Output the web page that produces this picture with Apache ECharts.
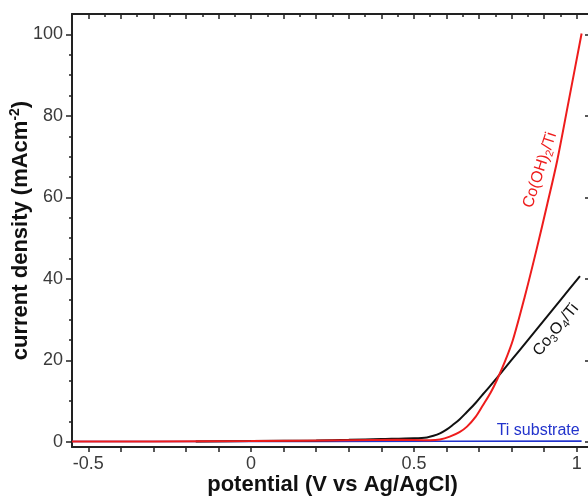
<!DOCTYPE html>
<html>
<head>
<meta charset="utf-8">
<script src="https://cdn.jsdelivr.net/npm/echarts@6/dist/echarts.min.js"></script>
<style>
  html, body { margin: 0; padding: 0; background: #fff; }
  #chart { width: 588px; height: 498px; }
</style>
</head>
<body>
<div id="chart"></div>
<script>
// Linear sweep voltammetry curves: [potential (V vs Ag/AgCl), current density (mA cm^-2)]
const cobaltHydroxide = [
  [-0.55, 0.1], [-0.3, 0.1], [0.0, 0.2], [0.3, 0.4], [0.45, 0.5], [0.55, 0.4],
  [0.58, 0.6], [0.61, 1.3], [0.64, 2.4], [0.663, 3.75], [0.69, 6.2], [0.712, 9.0],
  [0.735, 12.0], [0.755, 15.2], [0.78, 19.8], [0.804, 25.0], [0.84, 35.5],
  [0.876, 47.0], [0.91, 58.5], [0.94, 69.0], [0.975, 83.5], [1.015, 100.2]
];
const cobaltOxide = [
  [-0.17, 0.1], [0.0, 0.2], [0.2, 0.35], [0.3, 0.5], [0.4, 0.7], [0.5, 0.9],
  [0.54, 1.1], [0.56, 1.5], [0.58, 2.1], [0.6, 3.0], [0.62, 4.2], [0.64, 5.5],
  [0.66, 7.1], [0.69, 9.6], [0.712, 11.7], [0.735, 13.8], [0.755, 15.7],
  [0.8, 20.1], [0.85, 25.0], [0.9, 29.9], [0.95, 34.8], [1.01, 40.7]
];
const titaniumSubstrate = [
  [-0.55, 0.1], [-0.2, 0.1], [0.2, 0.1], [0.6, 0.15], [1.015, 0.2]
];

// Axis ticks and labels
const xMajorTicks = [-0.5, -0.4, -0.3, -0.2, -0.1, 0, 0.1, 0.2, 0.3, 0.4, 0.5, 0.6, 0.7, 0.8, 0.9, 1.0];
const xMinorTicks = [-0.45, -0.35, -0.25, -0.15, -0.05, 0.05, 0.15, 0.25, 0.35, 0.45, 0.55, 0.65, 0.75, 0.85, 0.95];
const xLabelTicks = [-0.5, 0, 0.5, 1];
const yMajorTicks = [0, 20, 40, 60, 80, 100];
const yMinorTicks = [5, 10, 15, 25, 30, 35, 45, 50, 55, 65, 70, 75, 85, 90, 95];

// Curve annotations: text, anchor point in data units, rotation in degrees
const curveLabels = [
  { rich: '{a|Co(OH)}{s|2}{a|/Ti}', at: [0.887, 66.7], angle: 72, color: '#ee1c1c', align: 'center' },
  { rich: '{a|Co}{s|3}{a|O}{s|4}{a|/Ti}', at: [0.936, 27.5], angle: 51, color: '#111111', align: 'center' },
  { rich: '{a|Ti substrate}', at: [1.009, 2.7], angle: 0, color: '#2233cc', align: 'right' }
];

const FONT = '"Liberation Sans", Arial, Helvetica, sans-serif';
const AXIS_COLOR = '#222';
const X_MIN = -0.55, X_MAX = 1.05, Y_MIN = -1.25, Y_MAX = 105;

const chart = echarts.init(document.getElementById('chart'), null, { renderer: 'canvas' });

const tickStyle = { color: AXIS_COLOR, width: 1.5 };
const frameLine = { show: true, onZero: false, lineStyle: { color: AXIS_COLOR, width: 2 } };
const noLine = { show: false, onZero: false };

chart.setOption({
  backgroundColor: '#fff',
  animation: false,
  grid: { left: 72, top: 14, width: 521, height: 433, containLabel: false, outerBoundsMode: 'none' },
  xAxis: [
    {
      type: 'value', position: 'bottom', min: X_MIN, max: X_MAX,
      axisLine: frameLine,
      axisTick: { show: true, inside: false, length: 5, customValues: xMajorTicks, lineStyle: tickStyle },
      axisLabel: { show: true, customValues: xLabelTicks, fontSize: 18, color: '#3a3a3a', fontFamily: FONT, margin: 8 },
      splitLine: { show: false },
      name: 'potential (V vs Ag/AgCl)', nameLocation: 'middle', nameGap: 27, nameMoveOverlap: false,
      nameTextStyle: { fontSize: 22, fontWeight: 'bold', color: '#111', fontFamily: FONT }
    },
    {
      type: 'value', position: 'top', min: X_MIN, max: X_MAX,
      axisLine: frameLine,
      axisTick: { show: true, inside: true, length: 5, customValues: xMajorTicks, lineStyle: tickStyle },
      axisLabel: { show: false }, splitLine: { show: false }
    },
    {
      type: 'value', position: 'top', min: X_MIN, max: X_MAX,
      axisLine: noLine,
      axisTick: { show: true, inside: true, length: 3, customValues: xMinorTicks, lineStyle: tickStyle },
      axisLabel: { show: false }, splitLine: { show: false }
    }
  ],
  yAxis: [
    {
      type: 'value', position: 'left', min: Y_MIN, max: Y_MAX,
      axisLine: frameLine,
      axisTick: { show: true, inside: false, length: 6, customValues: yMajorTicks, lineStyle: tickStyle },
      axisLabel: { show: true, customValues: yMajorTicks, fontSize: 18, color: '#3a3a3a', fontFamily: FONT, margin: 9 },
      splitLine: { show: false },
      name: '{a|current density (mAcm}{s|-2}{a|)}', nameLocation: 'middle', nameGap: 38, nameMoveOverlap: false,
      nameTextStyle: {
        color: '#111', fontFamily: FONT,
        rich: {
          a: { fontSize: 22, fontWeight: 'bold', color: '#111', fontFamily: FONT, lineHeight: 26 },
          s: { fontSize: 14, fontWeight: 'bold', color: '#111', fontFamily: FONT, lineHeight: 14, verticalAlign: 'top' }
        }
      }
    },
    {
      type: 'value', position: 'left', min: Y_MIN, max: Y_MAX,
      axisLine: noLine,
      axisTick: { show: true, inside: false, length: 3, customValues: yMinorTicks, lineStyle: tickStyle },
      axisLabel: { show: false }, splitLine: { show: false }
    },
    {
      type: 'value', position: 'right', min: Y_MIN, max: Y_MAX,
      axisLine: frameLine,
      axisTick: { show: true, inside: true, length: 8, customValues: yMajorTicks, lineStyle: tickStyle },
      axisLabel: { show: false }, splitLine: { show: false }
    }
  ],
  series: [
    {
      name: 'Ti substrate', type: 'line', data: titaniumSubstrate, showSymbol: false,
      lineStyle: { color: '#2233cc', width: 1.6 }, z: 2
    },
    {
      name: 'Co3O4/Ti', type: 'line', data: cobaltOxide, showSymbol: false, smooth: 0.3,
      lineStyle: { color: '#111111', width: 2 }, z: 3
    },
    {
      name: 'Co(OH)2/Ti', type: 'line', data: cobaltHydroxide, showSymbol: false, smooth: 0.3,
      lineStyle: { color: '#ee1c1c', width: 2 }, z: 4
    }
  ]
});

// Place the curve annotations from data coordinates
const graphics = curveLabels.map(function (lab) {
  const p = chart.convertToPixel({ xAxisIndex: 0, yAxisIndex: 0 }, lab.at);
  return {
    type: 'text', x: p[0], y: p[1], rotation: lab.angle * Math.PI / 180, z: 10,
    style: {
      text: lab.rich, align: lab.align, verticalAlign: 'middle',
      rich: {
        a: { fontSize: 16, fontFamily: FONT, fill: lab.color, lineHeight: 20 },
        s: { fontSize: 11, fontFamily: FONT, fill: lab.color, lineHeight: 11, verticalAlign: 'bottom' }
      }
    }
  };
});
chart.setOption({ graphic: graphics });
</script>
</body>
</html>
